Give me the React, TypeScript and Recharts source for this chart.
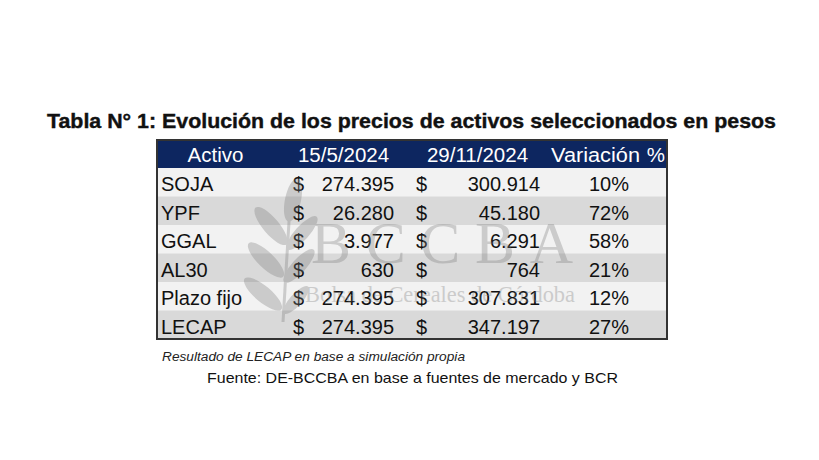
import React from 'react';
import { BarChart, Bar, XAxis, YAxis, Customized } from 'recharts';

const activos = ['SOJA', 'YPF', 'GGAL', 'AL30', 'Plazo fijo', 'LECAP'];
const precio15May = [274395, 26280, 3977, 630, 274395, 274395];
const precio29Nov = [300914, 45180, 6291, 764, 307831, 347197];
const variacion = [10, 72, 58, 21, 12, 27];
const columnas = ['Activo', '15/5/2024', '29/11/2024', 'Variación', '%'];
const titulo = 'Tabla N° 1: Evolución de los precios de activos seleccionados en pesos';
const nota = 'Resultado de LECAP en base a simulación propia';
const fuente = 'Fuente: DE-BCCBA en base a fuentes de mercado y BCR';

const rows = activos.map((a, i) => ({
  activo: a,
  p1: precio15May[i],
  p2: precio29Nov[i],
  variacion: variacion[i],
}));

const FONT = '"Liberation Sans", Arial, sans-serif';

const fmt = (n: number) => String(n).replace(/\B(?=(\d{3})+(?!\d))/g, '.');

const RowBackground = (props: any) => {
  const { x, y, width, height, index } = props;
  const i = index as number;
  const base = y + height / 2 + 8.5;
  return (
    <g key={`row-${i}`}>
      <rect x={x} y={y} width={width} height={height} fill={i % 2 === 0 ? '#f2f2f2' : '#d9d9d9'} />
      <text x={x + 4} y={base} fontFamily={FONT} fontSize={20} fill="#111">{activos[i]}</text>
      <text x={x + 136} y={base} fontFamily={FONT} fontSize={20} fill="#111">$</text>
      <text x={x + 237} y={base} textAnchor="end" fontFamily={FONT} fontSize={20} fill="#111">{fmt(precio15May[i])}</text>
      <text x={x + 259} y={base} fontFamily={FONT} fontSize={20} fill="#111">$</text>
      <text x={x + 383} y={base} textAnchor="end" fontFamily={FONT} fontSize={20} fill="#111">{fmt(precio29Nov[i])}</text>
      <text x={x + 452} y={base} textAnchor="middle" fontFamily={FONT} fontSize={20} fill="#111">{`${variacion[i]}%`}</text>
    </g>
  );
};

const Overlay = () => (
  <g>
    <text x={47} y={128} fontFamily={FONT} fontWeight="bold" fontSize={20.5} fill="#111" stroke="#111" strokeWidth={0.4} textLength={729} lengthAdjust="spacingAndGlyphs">{titulo}</text>
    <rect x={157} y={140} width={510} height={28} fill="#0d2660" />
    <text x={215.5} y={162} textAnchor="middle" fontFamily={FONT} fontSize={20.5} fill="#fff">{columnas[0]}</text>
    <text x={343.5} y={162} textAnchor="middle" fontFamily={FONT} fontSize={20.5} fill="#fff">{columnas[1]}</text>
    <text x={477.5} y={162} textAnchor="middle" fontFamily={FONT} fontSize={20.5} fill="#fff">{columnas[2]}</text>
    <text x={551} y={162} fontFamily={FONT} fontSize={20.5} fill="#fff" textLength={89} lengthAdjust="spacingAndGlyphs">{columnas[3]}</text>
    <text x={665} y={162} textAnchor="end" fontFamily={FONT} fontSize={20.5} fill="#fff">{columnas[4]}</text>
    <g opacity={0.32} fill="#7a7a7a">
      <text x={311} y={263} fontFamily='"Liberation Serif", serif' fontSize={60} textLength={262} lengthAdjust="spacing">BCCBA</text>
      <text x={305} y={302} fontFamily='"Liberation Serif", serif' fontSize={24} textLength={270} lengthAdjust="spacingAndGlyphs">Bolsa de Cereales de Córdoba</text>
      <path d="M283 322 L291 188" stroke="#7a7a7a" strokeWidth={3} fill="none" />
      <ellipse cx={293} cy={200} rx={8} ry={22} transform="rotate(12 293 200)" />
      <ellipse cx={271} cy={226} rx={8} ry={24} transform="rotate(-40 271 226)" />
      <ellipse cx={302} cy={233} rx={7} ry={22} transform="rotate(42 302 233)" />
      <ellipse cx={266} cy={260} rx={8} ry={24} transform="rotate(-46 266 260)" />
      <ellipse cx={299} cy={266} rx={7} ry={22} transform="rotate(42 299 266)" />
      <ellipse cx={263} cy={294} rx={8} ry={24} transform="rotate(-50 263 294)" />
      <ellipse cx={296} cy={300} rx={6} ry={18} transform="rotate(42 296 300)" />
    </g>
    <rect x={157} y={140} width={510} height={199} fill="none" stroke="#333" strokeWidth={2} />
    <text x={162} y={361} fontFamily={FONT} fontStyle="italic" fontSize={12.5} fill="#222" textLength={303} lengthAdjust="spacingAndGlyphs">{nota}</text>
    <text x={207} y={383} fontFamily={FONT} fontSize={15} fill="#111" textLength={411} lengthAdjust="spacingAndGlyphs">{fuente}</text>
  </g>
);

export default function App() {
  return (
    <div style={{ position: 'absolute', left: 0, top: 0, width: 819, height: 460, background: '#fff' }}>
      <BarChart
        width={819}
        height={460}
        data={rows}
        layout="vertical"
        margin={{ top: 168, right: 152, bottom: 121, left: 157 }}
        barCategoryGap={0}
      >
        <XAxis type="number" hide domain={[0, 100]} />
        <YAxis type="category" dataKey="activo" hide />
        <Bar dataKey="variacion" fill="none" isAnimationActive={false} background={RowBackground} />
        <Customized component={Overlay} />
      </BarChart>
    </div>
  );
}
